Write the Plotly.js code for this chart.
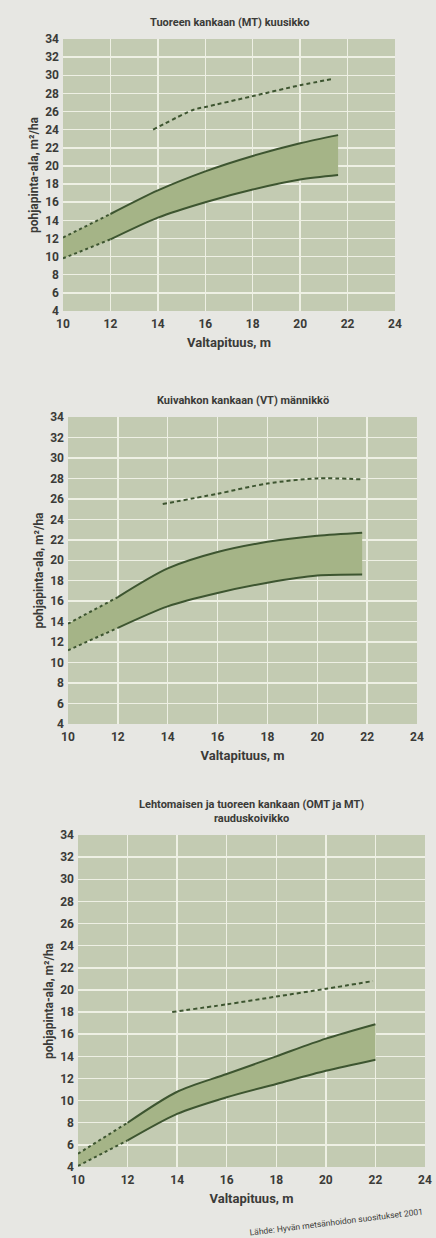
<!DOCTYPE html>
<html>
<head>
<meta charset="utf-8">
<script src="https://cdn.plot.ly/plotly-3.0.1.min.js"></script>
<style>
  html, body { margin: 0; padding: 0; background: #e7e7e3; }
  #chart { width: 436px; height: 1238px; }
</style>
</head>
<body>
<div id="chart"></div>
<script>
// ---------- DATA ----------
const titles = [
  "Tuoreen kankaan (MT) kuusikko",
  "Kuivahkon kankaan (VT) männikkö",
  "Lehtomaisen ja tuoreen kankaan (OMT ja MT)<br>rauduskoivikko"
];
const xTitle = "Valtapituus, m";
const yTitle = "pohjapinta-ala, m²/ha";
const xTicks = [10, 12, 14, 16, 18, 20, 22, 24];
const yTicks = [4, 6, 8, 10, 12, 14, 16, 18, 20, 22, 24, 26, 28, 30, 32, 34];
const source = "Lähde: Hyvän metsänhoidon suositukset 2001";

// Chart 1: MT kuusikko
const mtHeight = [10, 12, 14, 16, 18, 20, 21.6];
const mtUpper  = [12.1, 14.7, 17.3, 19.4, 21.1, 22.5, 23.4];
const mtLower  = [9.8, 11.9, 14.3, 16.0, 17.4, 18.5, 19.0];
const mtTopHeight = [13.8, 15.5, 16, 18, 20, 21.4];
const mtTop       = [24.0, 26.2, 26.5, 27.7, 28.9, 29.6];

// Chart 2: VT männikkö
const vtHeight = [10, 12, 14, 16, 18, 20, 21.8];
const vtUpper  = [13.8, 16.4, 19.2, 20.8, 21.8, 22.4, 22.7];
const vtLower  = [11.2, 13.4, 15.5, 16.8, 17.8, 18.5, 18.6];
const vtTopHeight = [13.8, 16, 18, 20, 21.8];
const vtTop       = [25.5, 26.5, 27.5, 28.0, 27.9];

// Chart 3: OMT ja MT rauduskoivikko
const kHeight = [10, 12, 14, 16, 18, 20, 22];
const kUpper  = [5.2, 8.0, 10.8, 12.4, 14.0, 15.6, 16.9];
const kLower  = [4.1, 6.4, 8.8, 10.3, 11.5, 12.7, 13.7];
const kTopHeight = [13.8, 16, 18, 20, 21.9];
const kTop       = [18.0, 18.7, 19.4, 20.1, 20.8];

// number of leading points drawn dashed on the band edges
const dashedPoints = 2;

// ---------- STYLE ----------
const plotBg = "#c3cbb2";
const bandFill = "#a5b487";
const lineCol = "#3d5530";
const gridCol = "#eef0e4";
const textCol = "#3b3b38";
const fontFam = "Roboto, 'Liberation Sans Narrow', 'DejaVu Sans Condensed', sans-serif";

const W = 436, H = 1238;
const boxes = [
  {l: 63, r: 395, t: 39, b: 311},
  {l: 68, r: 417, t: 417, b: 724},
  {l: 78, r: 425, t: 835, b: 1167}
];

const sets = [
  [mtHeight, mtUpper, mtLower, mtTopHeight, mtTop],
  [vtHeight, vtUpper, vtLower, vtTopHeight, vtTop],
  [kHeight, kUpper, kLower, kTopHeight, kTop]
];

const traces = [];
sets.forEach((s, i) => {
  const [xs, up, lo, tx, ty] = s;
  const xa = i === 0 ? "x" : "x" + (i + 1);
  const ya = i === 0 ? "y" : "y" + (i + 1);
  const base = {xaxis: xa, yaxis: ya, mode: "lines", showlegend: false, hoverinfo: "skip"};
  traces.push(Object.assign({}, base, {x: xs, y: lo, line: {width: 0, shape: "spline", smoothing: 0.8}}));
  traces.push(Object.assign({}, base, {x: xs, y: up, fill: "tonexty", fillcolor: bandFill,
    line: {width: 0, shape: "spline", smoothing: 0.8}}));
  [up, lo].forEach(arr => {
    traces.push(Object.assign({}, base, {x: xs.slice(0, dashedPoints), y: arr.slice(0, dashedPoints),
      line: {color: lineCol, width: 2, dash: "3px,3px"}}));
    traces.push(Object.assign({}, base, {x: xs.slice(dashedPoints - 1), y: arr.slice(dashedPoints - 1),
      line: {color: lineCol, width: 2, shape: "spline", smoothing: 0.8}}));
  });
  traces.push(Object.assign({}, base, {x: tx, y: ty,
    line: {color: lineCol, width: 2, dash: "4px,3px", shape: "spline", smoothing: 0.8}}));
});

const layout = {
  width: W, height: H,
  margin: {l: 0, r: 0, t: 0, b: 0},
  paper_bgcolor: "#e7e7e3",
  plot_bgcolor: plotBg,
  font: {family: fontFam, color: textCol, size: 12},
  showlegend: false,
  annotations: []
};

boxes.forEach((b, i) => {
  const xk = i === 0 ? "xaxis" : "xaxis" + (i + 1);
  const yk = i === 0 ? "yaxis" : "yaxis" + (i + 1);
  layout[xk] = {
    domain: [b.l / W, b.r / W],
    anchor: i === 0 ? "y" : "y" + (i + 1),
    range: [10, 24], tickvals: xTicks, ticks: "",
    ticklabelstandoff: 4,
    showgrid: true, gridcolor: gridCol, gridwidth: 1.5,
    zeroline: false, showline: false,
    tickfont: {family: fontFam, size: 12, color: textCol, weight: "bold"},
    title: {text: xTitle, standoff: 7, font: {family: fontFam, size: 13, color: textCol, weight: "bold"}},
    fixedrange: true
  };
  layout[yk] = {
    domain: [1 - b.b / H, 1 - b.t / H],
    anchor: i === 0 ? "x" : "x" + (i + 1),
    range: [4, 34], tickvals: yTicks, ticks: "",
    ticklabelstandoff: 3,
    showgrid: true, gridcolor: gridCol, gridwidth: 1.5,
    zeroline: false, showline: false,
    tickfont: {family: fontFam, size: 12, color: textCol, weight: "bold"},
    title: {text: yTitle, standoff: 4, font: {family: fontFam, size: 12, color: textCol, weight: "bold"}},
    fixedrange: true
  };
  layout.annotations.push({
    text: titles[i], xref: "paper", yref: "paper",
    x: (b.l + b.r) / 2 / W, y: 1 - (b.t - 8) / H,
    xanchor: "center", yanchor: "bottom", showarrow: false,
    font: {family: fontFam, size: 11, color: textCol, weight: "bold"}
  });
});

layout.annotations.push({
  text: source, xref: "paper", yref: "paper",
  x: 336 / W, y: 1 - 1222 / H, xanchor: "center", yanchor: "middle",
  showarrow: false, textangle: -7,
  font: {family: fontFam, size: 8.5, color: textCol}
});

Plotly.newPlot("chart", traces, layout, {staticPlot: true, displayModeBar: false});
</script>
</body>
</html>
